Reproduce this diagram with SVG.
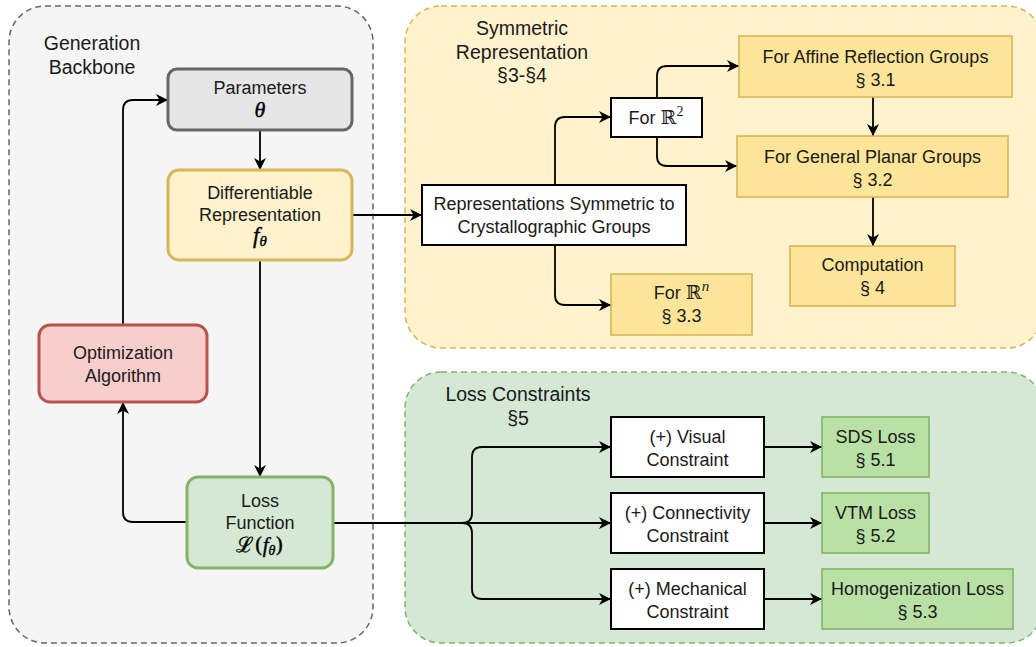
<svg xmlns="http://www.w3.org/2000/svg" width="1036" height="647" viewBox="0 0 1036 647">
<defs>
<marker id="arr" markerUnits="userSpaceOnUse" markerWidth="14" markerHeight="12" refX="12" refY="6" orient="auto">
<path d="M0,0 L12,6 L0,12 L3.5,6 Z" fill="#000"/>
</marker>
<style>
.t{font-family:"Liberation Sans",Arial,sans-serif;font-size:18px;fill:#1a1a1a;text-anchor:middle}
.ti{font-family:"Liberation Sans",Arial,sans-serif;font-size:19.5px;fill:#1a1a1a;text-anchor:middle}
.m{font-family:"Liberation Serif","DejaVu Serif",serif;font-style:italic;font-weight:normal;fill:#000;stroke:#000;stroke-width:0.4;text-anchor:middle}
.ms{font-family:"DejaVu Serif",serif;font-style:normal;font-weight:normal}
.c{fill:none;stroke:#000;stroke-width:1.8;marker-end:url(#arr)}
.wb{fill:#fff;stroke:#000;stroke-width:2}
.yb{fill:#ffe599;stroke:#d6b656;stroke-width:1.6}
.gb{fill:#b9e0a5;stroke:#82b366;stroke-width:1.6}
</style>
</defs>
<g id="containers">
<rect id="generation-backbone" x="9" y="6" width="364" height="637" rx="36" fill="#f5f5f5" stroke="#666" stroke-width="1.5" stroke-dasharray="6 4"/>
<rect id="symmetric-representation" x="405" y="6" width="638" height="342" rx="36" fill="#fff2cc" stroke="#d6b656" stroke-width="1.5" stroke-dasharray="6 4"/>
<rect id="loss-constraints" x="405" y="372" width="638" height="271" rx="36" fill="#d5e8d4" stroke="#82b366" stroke-width="1.5" stroke-dasharray="6 4"/>
<text class="ti" x="92" y="50">Generation</text>
<text class="ti" x="92" y="74">Backbone</text>
<text class="ti" x="522" y="35">Symmetric</text>
<text class="ti" x="522" y="59">Representation</text>
<text class="ti" x="522" y="82">§3-§4</text>
<text class="ti" x="518" y="401">Loss Constraints</text>
<text class="ti" x="518" y="425">§5</text>
</g>
<g id="connectors">
<path class="c" d="M260,130 V170"/>
<path class="c" d="M260,260 V477"/>
<path class="c" d="M187,522 H133 Q123,522 123,512 V402"/>
<path class="c" d="M123,325 V110 Q123,100 133,100 H168"/>
<path class="c" d="M352,215 H422"/>
<path class="c" d="M555,184 V127 Q555,117 565,117 H611"/>
<path class="c" d="M555,246 V295 Q555,305 565,305 H611"/>
<path class="c" d="M657,98 V76 Q657,66 667,66 H739"/>
<path class="c" d="M657,137 V156 Q657,166 667,166 H737"/>
<path class="c" d="M873,97 V136"/>
<path class="c" d="M873,197 V246"/>
<path class="c" d="M333,523 H611"/>
<path class="c" d="M462,523 Q472,523 472,513 V457 Q472,447 482,447 H611"/>
<path class="c" d="M462,523 Q472,523 472,533 V589 Q472,599 482,599 H611"/>
<path class="c" d="M764,447 H822"/>
<path class="c" d="M764,523 H822"/>
<path class="c" d="M764,599 H822"/>
</g>
<g id="parameters">
<rect x="168" y="69" width="184" height="61" rx="9" fill="#e6e6e6" stroke="#666" stroke-width="3"/>
<text class="t" x="260" y="94">Parameters</text>
<text class="m" x="260" y="117" font-size="22">θ</text>
</g>
<g id="differentiable-representation">
<rect x="168" y="170" width="184" height="90" rx="11" fill="#fff2cc" stroke="#d6b656" stroke-width="3"/>
<text class="t" x="260" y="198.5">Differentiable</text>
<text class="t" x="260" y="220.5">Representation</text>
<text class="m" x="260" y="243" font-size="23">f<tspan font-size="15" dy="3">θ</tspan></text>
</g>
<g id="optimization-algorithm">
<rect x="39" y="325" width="168" height="77" rx="11" fill="#f8cecc" stroke="#b85450" stroke-width="3"/>
<text class="t" x="123" y="358.5">Optimization</text>
<text class="t" x="123" y="381.5">Algorithm</text>
</g>
<g id="loss-function">
<rect x="187" y="477" width="146" height="91" rx="11" fill="#d5e8d4" stroke="#82b366" stroke-width="3"/>
<text class="t" x="260" y="507">Loss</text>
<text class="t" x="260" y="529">Function</text>
<text class="m" x="260" y="552" font-size="21"><tspan class="ms">ℒ(</tspan>f<tspan font-size="14" dy="3">θ</tspan><tspan class="ms" dy="-3">)</tspan></text>
</g>
<g id="representations-symmetric">
<rect class="wb" x="422" y="185" width="264" height="60"/>
<text class="t" x="554" y="209.5">Representations Symmetric to</text>
<text class="t" x="554" y="232.5">Crystallographic Groups</text>
</g>
<g id="for-r2">
<rect class="wb" x="611" y="98" width="91" height="39"/>
<text class="t" x="656" y="124">For <tspan font-family="DejaVu Serif,serif" font-size="19">ℝ</tspan><tspan font-family="Liberation Serif,serif" font-size="14" dy="-8">2</tspan></text>
</g>
<g id="affine-reflection">
<rect class="yb" x="739" y="36" width="273" height="61"/>
<text class="t" x="875.5" y="62.5">For Affine Reflection Groups</text>
<text class="t" x="875.5" y="85.5">§ 3.1</text>
</g>
<g id="general-planar">
<rect class="yb" x="737" y="136" width="271" height="61"/>
<text class="t" x="872.5" y="163">For General Planar Groups</text>
<text class="t" x="872.5" y="186">§ 3.2</text>
</g>
<g id="computation">
<rect class="yb" x="790" y="246" width="165" height="60"/>
<text class="t" x="872.5" y="271">Computation</text>
<text class="t" x="872.5" y="294">§ 4</text>
</g>
<g id="for-rn">
<rect class="yb" x="611" y="274" width="141" height="61"/>
<text class="t" x="681.5" y="299">For <tspan font-family="DejaVu Serif,serif" font-size="19">ℝ</tspan><tspan font-family="Liberation Serif,serif" font-style="italic" font-size="15" dy="-8">n</tspan></text>
<text class="t" x="681.5" y="322">§ 3.3</text>
</g>
<g id="visual-constraint">
<rect class="wb" x="611" y="417" width="153" height="60"/>
<text class="t" x="687.5" y="442.5">(+) Visual</text>
<text class="t" x="687.5" y="465.5">Constraint</text>
</g>
<g id="connectivity-constraint">
<rect class="wb" x="611" y="493" width="153" height="60"/>
<text class="t" x="687.5" y="518.5">(+) Connectivity</text>
<text class="t" x="687.5" y="541.5">Constraint</text>
</g>
<g id="mechanical-constraint">
<rect class="wb" x="611" y="569" width="153" height="60"/>
<text class="t" x="687.5" y="594.5">(+) Mechanical</text>
<text class="t" x="687.5" y="617.5">Constraint</text>
</g>
<g id="sds-loss">
<rect class="gb" x="822" y="417" width="107" height="60"/>
<text class="t" x="875.5" y="442.5">SDS Loss</text>
<text class="t" x="875.5" y="465.5">§ 5.1</text>
</g>
<g id="vtm-loss">
<rect class="gb" x="822" y="493" width="107" height="60"/>
<text class="t" x="875.5" y="518.5">VTM Loss</text>
<text class="t" x="875.5" y="541.5">§ 5.2</text>
</g>
<g id="homogenization-loss">
<rect class="gb" x="822" y="569" width="191" height="60"/>
<text class="t" x="917.5" y="594.5">Homogenization Loss</text>
<text class="t" x="917.5" y="617.5">§ 5.3</text>
</g>
</svg>
